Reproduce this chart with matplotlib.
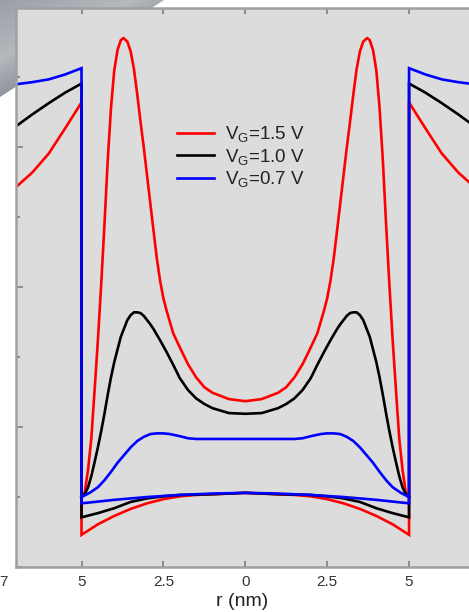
import numpy as np
import matplotlib
matplotlib.use("Agg")
import matplotlib.pyplot as plt
import matplotlib.transforms as mtransforms
from matplotlib.patches import Polygon
from matplotlib.colors import LinearSegmentedColormap

plt.rcParams['font.family'] = ['Liberation Sans', 'DejaVu Sans']
plt.rcParams['mathtext.fontset'] = 'custom'
plt.rcParams['mathtext.rm'] = 'Liberation Sans'
plt.rcParams['mathtext.it'] = 'Liberation Sans:italic'
plt.rcParams['mathtext.bf'] = 'Liberation Sans:bold'

# ---------------- data (left half, r <= 0; chart is mirror-symmetric) ----------------
labels = ['V$_{\\mathrm{G}}$=1.5 V', 'V$_{\\mathrm{G}}$=1.0 V', 'V$_{\\mathrm{G}}$=0.7 V']
colors = ['#ff0000', '#000000', '#0000ff']

# outside region (r from -7 to -5)
r_out = [-7.0, -6.5, -6.0, -5.5, -5.0]
out_red = [5.43, 5.64, 5.91, 6.27, 6.64]
out_black = [6.30, 6.47, 6.63, 6.78, 6.91]
out_blue = [6.90, 6.93, 6.97, 7.04, 7.13]

# lower profile inside (r from -5 to 0)
r_low_red = [-5.0, -4.5, -4.0, -3.5, -3.0, -2.5, -2.0, -1.5, -1.0, 0.0]
low_red = [0.46, 0.61, 0.73, 0.83, 0.91, 0.97, 1.01, 1.03, 1.04, 1.06]
r_low_black = [-5.0, -4.5, -4.0, -3.5, -3.0, -2.5, -2.0, -1.0, 0.0]
low_black = [0.71, 0.77, 0.84, 0.93, 0.98, 1.01, 1.03, 1.04, 1.06]
r_low_blue = [-5.0, -4.0, -3.0, -2.0, -1.0, 0.0]
low_blue = [0.91, 0.96, 1.00, 1.03, 1.05, 1.06]

# upper (peaked) profile inside (r from -5 to 0)
r_up_red = [-5.0, -4.9, -4.8, -4.7, -4.6, -4.5, -4.4, -4.3, -4.2, -4.1, -4.0, -3.9, -3.8,
            -3.72, -3.6, -3.5, -3.4, -3.3, -3.2, -3.1, -3.0, -2.9, -2.8, -2.7, -2.6, -2.5,
            -2.4, -2.2, -2.0, -1.75, -1.5, -1.25, -1.0, -0.5, 0.0]
up_red = [1.00, 1.07, 1.39, 1.84, 2.53, 3.24, 4.03, 4.89, 5.81, 6.56, 7.10, 7.39, 7.53,
          7.56, 7.51, 7.37, 7.12, 6.76, 6.37, 6.00, 5.60, 5.20, 4.80, 4.41, 4.09, 3.84,
          3.66, 3.34, 3.14, 2.90, 2.71, 2.57, 2.49, 2.40, 2.37]
r_up_black = [-5.0, -4.9, -4.8, -4.7, -4.6, -4.5, -4.4, -4.3, -4.2, -4.1, -4.0, -3.9, -3.8,
              -3.7, -3.6, -3.5, -3.4, -3.3, -3.2, -3.1, -3.0, -2.9, -2.8, -2.6, -2.4, -2.2,
              -2.0, -1.75, -1.5, -1.25, -1.0, -0.5, 0.0]
up_black = [1.00, 1.04, 1.14, 1.30, 1.50, 1.71, 1.94, 2.19, 2.46, 2.71, 2.93, 3.11, 3.29,
            3.41, 3.53, 3.60, 3.64, 3.64, 3.63, 3.59, 3.53, 3.47, 3.40, 3.24, 3.07, 2.89,
            2.70, 2.53, 2.41, 2.33, 2.27, 2.20, 2.19]
r_up_blue = [-5.0, -4.75, -4.5, -4.3, -4.1, -3.9, -3.7, -3.5, -3.3, -3.1, -2.9, -2.7, -2.5,
             -2.3, -2.0, -1.75, -1.5, -1.0, 0.0]
up_blue = [1.00, 1.06, 1.14, 1.24, 1.36, 1.49, 1.60, 1.71, 1.80, 1.86, 1.90, 1.91, 1.91,
           1.90, 1.87, 1.84, 1.83, 1.83, 1.83]

xtick_pos = [-5, -2.5, 0, 2.5, 5]
xtick_lab = ['5', '2.5', '0', '2.5', '5']


def mirror(r, y):
    r = np.asarray(r, float)
    y = np.asarray(y, float)
    return np.concatenate([r, -r[-2::-1]]), np.concatenate([y, y[-2::-1]])


def outer_path(r_o, y_o, r_l, y_l):
    r_in, y_in = mirror(r_l, y_l)
    r_o = np.asarray(r_o, float)
    y_o = np.asarray(y_o, float)
    rr = np.concatenate([r_o, r_in, -r_o[::-1]])
    yy = np.concatenate([y_o, y_in, y_o[::-1]])
    return rr, yy


W, H = 469, 612
fig = plt.figure(figsize=(W / 100, H / 100), dpi=100)
fig.patch.set_facecolor('white')

# decorative dark corner behind the plot (top-left)
bg = fig.add_axes([0, 0, 1, 1], zorder=-10)
bg.set_xlim(0, W)
bg.set_ylim(H, 0)
bg.axis('off')
gy, gx = np.mgrid[0:1:100j, 0:1:170j]
grad = 0.6 * gx + 0.8 * gy
cmap = LinearSegmentedColormap.from_list('corner', ['#9aa0a6', '#b4b9be', '#7b8188', '#4e545b'])
im = bg.imshow(grad, extent=(0, 170, 100, 0), cmap=cmap, aspect='auto', zorder=0)
poly = Polygon([(0, 0), (164, 0), (150, 9), (17, 9), (17, 86), (0, 97)],
               closed=True, transform=bg.transData)
im.set_clip_path(poly)

ax = fig.add_axes([16 / W, (H - 567) / H, (W - 16) / W, 559 / H], zorder=1)
ax.set_facecolor('#dcdcdc')

lw = 1.9
outs = [(out_red, r_low_red, low_red), (out_black, r_low_black, low_black),
        (out_blue, r_low_blue, low_blue)]
ups = [(r_up_red, up_red), (r_up_black, up_black), (r_up_blue, up_blue)]
for (yo, rl, yl), (ru, yu), c, lab in zip(outs, ups, colors, labels):
    rr, yy = outer_path(r_out, yo, rl, yl)
    ax.plot(rr, yy, color=c, lw=lw, label=lab, solid_joinstyle='miter')
    r2, y2 = mirror(ru, yu)
    ax.plot(r2, y2, color=c, lw=lw, solid_joinstyle='round')

ax.set_xlim(-7, 6.83)
ax.set_ylim(0, 7.99)

ax.set_xticks(xtick_pos)
ax.set_xticklabels(xtick_lab)
ax.set_yticks([0, 2, 4, 6])
ax.set_yticks([1, 3, 5, 7], minor=True)
ax.set_yticklabels([])
ax.tick_params(axis='x', which='both', direction='in', top=True, bottom=True,
               length=4, width=1.4, color='#8c8c8c', labelsize=11, labelcolor='#333333', pad=6)
ax.tick_params(axis='y', which='major', direction='in', left=True, right=False,
               length=5, width=1.4, color='#8c8c8c')
ax.tick_params(axis='y', which='minor', direction='in', left=True, right=False,
               length=3, width=1.4, color='#8c8c8c')
# partially visible tick label at the clipped left edge
off = mtransforms.ScaledTranslation(0, -6 / 72, fig.dpi_scale_trans)
ax.text(-7.38, 0, '7', transform=ax.get_xaxis_transform() + off, ha='center', va='top',
        fontsize=11, color='#333333', clip_on=False)
ax.set_xlabel('r (nm)', fontsize=14, color='#222222', labelpad=3)

for s in ['left', 'top', 'bottom']:
    ax.spines[s].set_color('#a0a0a0')
    ax.spines[s].set_linewidth(1.8)
ax.spines['right'].set_visible(False)

leg = ax.legend(loc='upper left', bbox_to_anchor=(0.355, 0.792), frameon=False,
                fontsize=13.5, handlelength=2.0, handletextpad=0.55, labelspacing=0.13,
                borderpad=0, borderaxespad=0)
for t in leg.get_texts():
    t.set_color('#222222')

fig.savefig('out.png', dpi=100, facecolor='white')
